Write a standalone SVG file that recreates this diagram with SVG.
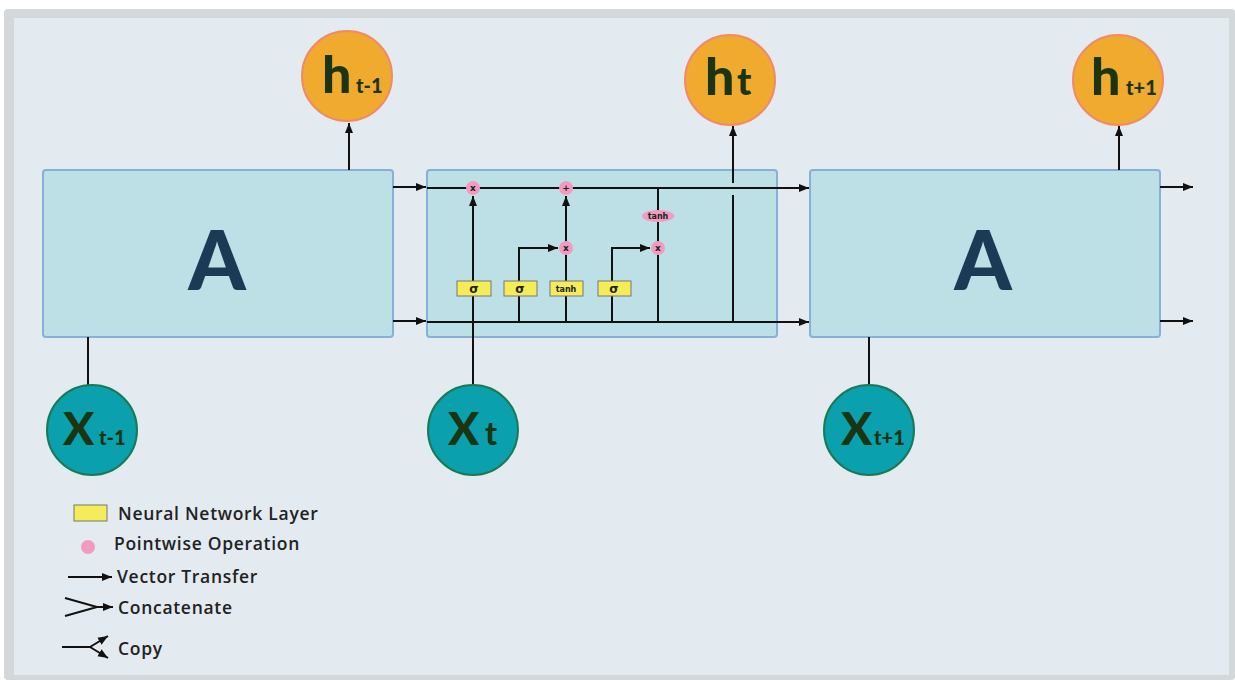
<svg xmlns="http://www.w3.org/2000/svg" width="1235" height="680" viewBox="0 0 1235 680">
<defs>
<marker id="ah" viewBox="0 0 10 10" refX="10" refY="5" markerWidth="10" markerHeight="10" markerUnits="userSpaceOnUse" orient="auto">
<path d="M0,1 L10,5 L0,9 z" fill="#111"/>
</marker>
<style>
.box{fill:#bde0e6;stroke:#86b0d8;stroke-width:2}
.ln{stroke:#111;stroke-width:2;fill:none}
.arr{stroke:#111;stroke-width:2;fill:none;marker-end:url(#ah)}
.big{font-family:Lato,"Liberation Sans",sans-serif;font-weight:900;fill:#1a3a55;font-size:82px;text-anchor:middle}
.hc{fill:#f0aa2e;stroke:#f08a6a;stroke-width:2}
.xc{fill:#0aa0ae;stroke:#1a7a55;stroke-width:2}
.lbl{font-family:Lato,"Liberation Sans",sans-serif;font-weight:900;fill:#1b3512}
.pw{fill:#f39ac0}
.nn{fill:#f5ec5a;stroke:#777;stroke-width:1}
.sm{font-family:"DejaVu Sans",sans-serif;font-size:9px;fill:#222;text-anchor:middle;font-weight:bold}
.leg{font-family:"Open Sans","Liberation Sans",sans-serif;font-size:17.5px;font-weight:600;letter-spacing:0.7px;fill:#222}
</style>
</defs>
<rect x="4" y="9" width="1231" height="671" rx="4" fill="#d3d8db"/>
<rect x="14" y="18" width="1215" height="657" fill="#e3ebf1"/>

<g id="A-left">
<rect class="box" x="43" y="170" width="350" height="167" rx="3"/>
<text class="big" x="217" y="290">A</text>
</g>
<g id="A-mid">
<rect class="box" x="427" y="170" width="350" height="167" rx="3"/>
</g>
<g id="A-right">
<rect class="box" x="810" y="170" width="350" height="167" rx="3"/>
<text class="big" x="983" y="290">A</text>
</g>

<g id="connectors">
<line class="arr" x1="393" y1="187" x2="426" y2="187"/>
<line class="arr" x1="393" y1="321" x2="426" y2="321"/>
<line class="arr" x1="427" y1="188" x2="809" y2="188"/>
<line class="arr" x1="427" y1="322" x2="809" y2="322"/>
<line class="arr" x1="1160" y1="187" x2="1193" y2="187"/>
<line class="arr" x1="1160" y1="321" x2="1193" y2="321"/>
<line class="arr" x1="349" y1="170" x2="349" y2="123"/>
<line class="arr" x1="1119" y1="170" x2="1119" y2="126"/>
<line class="arr" x1="733" y1="183" x2="733" y2="126"/>
<line class="ln" x1="733" y1="195" x2="733" y2="322"/>
<line class="ln" x1="88" y1="337" x2="88" y2="385"/>
<line class="ln" x1="869" y1="337" x2="869" y2="385"/>
<line class="arr" x1="473" y1="385" x2="473" y2="196"/>
<polyline class="arr" points="519,322 519,248 558,248"/>
<line class="arr" x1="566" y1="322" x2="566" y2="196"/>
<polyline class="arr" points="612,322 612,248 650,248"/>
<line class="ln" x1="658" y1="322" x2="658" y2="188"/>
</g>

<g id="op-x1"><circle class="pw" cx="473" cy="188" r="7"/><text class="sm" x="473" y="191">x</text></g>
<g id="op-plus"><circle class="pw" cx="566" cy="188" r="7"/><text class="sm" x="566" y="191">+</text></g>
<g id="op-x2"><circle class="pw" cx="566" cy="248" r="7"/><text class="sm" x="566" y="251">x</text></g>
<g id="op-x3"><circle class="pw" cx="658" cy="248" r="7"/><text class="sm" x="658" y="251">x</text></g>
<g id="op-tanh"><ellipse class="pw" cx="658" cy="216" rx="16" ry="6"/><text class="sm" x="658" y="219" style="font-size:8px">tanh</text></g>

<g id="nn-s1"><rect class="nn" x="457" y="281" width="34" height="15"/><text class="sm" x="474" y="293" style="font-size:12px">σ</text></g>
<g id="nn-s2"><rect class="nn" x="504" y="281" width="33" height="15"/><text class="sm" x="520" y="293" style="font-size:12px">σ</text></g>
<g id="nn-tanh"><rect class="nn" x="550" y="281" width="33" height="15"/><text class="sm" x="566" y="292" style="font-size:8px">tanh</text></g>
<g id="nn-s3"><rect class="nn" x="598" y="281" width="33" height="15"/><text class="sm" x="614" y="293" style="font-size:12px">σ</text></g>

<g id="h-tm1"><circle class="hc" cx="347" cy="76" r="45"/><text class="lbl" x="322" y="93" style="font-size:52px">h</text><text class="lbl" x="356" y="93" style="font-size:20px">t-1</text></g>
<g id="h-t"><circle class="hc" cx="730" cy="80" r="45"/><text class="lbl" x="705" y="95" style="font-size:52px">h</text><text class="lbl" x="737" y="95" style="font-size:38px">t</text></g>
<g id="h-tp1"><circle class="hc" cx="1118" cy="80" r="45"/><text class="lbl" x="1091" y="95" style="font-size:52px">h</text><text class="lbl" x="1126" y="95" style="font-size:20px">t+1</text></g>

<g id="x-tm1"><circle class="xc" cx="92" cy="430" r="45"/><text class="lbl" x="63" y="445" style="font-size:46px">X</text><text class="lbl" x="99" y="445" style="font-size:20px">t-1</text></g>
<g id="x-t"><circle class="xc" cx="473" cy="430" r="45"/><text class="lbl" x="448" y="445" style="font-size:46px">X</text><text class="lbl" x="485" y="445" style="font-size:32px">t</text></g>
<g id="x-tp1"><circle class="xc" cx="869" cy="430" r="45"/><text class="lbl" x="841" y="445" style="font-size:46px">X</text><text class="lbl" x="874" y="445" style="font-size:20px">t+1</text></g>

<g id="legend">
<rect class="nn" x="74" y="505" width="33" height="16"/>
<text class="leg" x="118" y="520">Neural Network Layer</text>
<circle class="pw" cx="88" cy="547" r="7"/>
<text class="leg" x="114" y="550">Pointwise Operation</text>
<line class="arr" x1="68" y1="577" x2="112" y2="577"/>
<text class="leg" x="117" y="583">Vector Transfer</text>
<polyline class="ln" points="65,598 97,607 65,616"/>
<line class="arr" x1="97" y1="607" x2="113" y2="607"/>
<text class="leg" x="118" y="614">Concatenate</text>
<line class="ln" x1="62" y1="647" x2="90" y2="647"/>
<line class="arr" x1="90" y1="647" x2="108" y2="636"/>
<line class="arr" x1="90" y1="647" x2="108" y2="658"/>
<text class="leg" x="118" y="655">Copy</text>
</g>
</svg>
